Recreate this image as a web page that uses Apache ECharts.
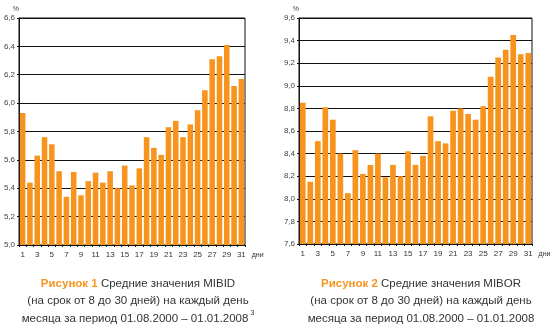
<!DOCTYPE html>
<html><head><meta charset="utf-8">
<script src="https://cdn.jsdelivr.net/npm/echarts@6/dist/echarts.min.js"></script>
<style>html,body{margin:0;padding:0;background:#fff}#c{width:556px;height:330px}</style>
</head><body><div id="c"></div>
<script>
const days = Array.from({length:31},(_,i)=>String(i+1));
const mibid = [5.93,5.44,5.63,5.76,5.71,5.52,5.34,5.515,5.35,5.45,5.51,5.44,5.52,5.40,5.56,5.42,5.54,5.76,5.685,5.635,5.83,5.875,5.76,5.85,5.95,6.09,6.31,6.33,6.41,6.12,6.17];
const mibor = [8.85,8.15,8.51,8.81,8.70,8.40,8.05,8.43,8.22,8.30,8.40,8.19,8.30,8.20,8.42,8.30,8.38,8.73,8.51,8.49,8.78,8.80,8.75,8.70,8.82,9.08,9.25,9.32,9.45,9.28,9.29];
const leftAxis = {min:5.0, max:6.6, interval:0.2};
const rightAxis = {min:7.6, max:9.6, interval:0.2};
const unitLabel = '%';
const dayLabel = 'дни';
const cap1 = ['Рисунок 1', ' Средние значения MIBID', '(на срок от 8 до 30 дней) на каждый день', 'месяца за период 01.08.2000 – 01.01.2008', '3'];
const cap2 = ['Рисунок 2', ' Средние значения MIBOR', '(на срок от 8 до 30 дней) на каждый день', 'месяца за период 01.08.2000 – 01.01.2008'];

const ORANGE = '#F7941D';
const FONT = 'Liberation Sans, Arial, sans-serif';
const chart = echarts.init(document.getElementById('c'), null, {renderer:'canvas'});

function xAx(gi){
  return {type:'category', gridIndex:gi, data:days,
    axisLine:{lineStyle:{color:'#111', width:1}},
    axisTick:{show:true, length:2, lineStyle:{color:'#111'}, interval:0},
    axisLabel:{interval:1, color:'#333', fontSize:8, fontFamily:FONT, margin:6},
    name:dayLabel, nameLocation:'end', nameGap:6,
    nameTextStyle:{color:'#333', fontSize:7, fontFamily:FONT, verticalAlign:'top', padding:[7,0,0,0]}
  };
}
function yAx(gi, ax){
  return {type:'value', gridIndex:gi, min:ax.min, max:ax.max, interval:ax.interval,
    axisLine:{show:true, lineStyle:{color:'#111', width:1}},
    axisTick:{show:true, length:2, lineStyle:{color:'#111'}},
    splitLine:{lineStyle:{color:'#111', width:1}},
    axisLabel:{color:'#444', fontSize:8, fontFamily:FONT, margin:4,
      formatter:v=>v.toFixed(1).replace('.',',')},
    name:unitLabel, nameLocation:'end', nameGap:5,
    nameTextStyle:{color:'#444', fontSize:7, fontFamily:FONT, align:'right', padding:[0,0,0,0]}
  };
}
function cap(c, left, sup){
  return {
    text: '{o|'+c[0]+'}{n|'+c[1]+'}\n{n|'+c[2]+'}\n{n|'+c[3]+'}'+(sup?'{s|'+sup+'}':''),
    left:left, top:270, textAlign:'center',
    textStyle:{fontWeight:'normal', rich:{
      o:{color:ORANGE, fontWeight:'bold', fontSize:11.5, fontFamily:FONT, lineHeight:17.5},
      n:{color:'#333', fontWeight:'normal', fontSize:11.5, fontFamily:FONT, lineHeight:17.5},
      s:{color:'#333', fontWeight:'normal', fontSize:7, fontFamily:FONT, verticalAlign:'top', lineHeight:17.5, padding:[0,0,8,2]}
    }}
  };
}
chart.setOption({
  animation:false,
  title:[cap(cap1, 133, cap1[4]), cap(cap2, 416, null)],
  grid:[
    {left:19, top:18, width:226, height:227, show:true, borderColor:'#111', borderWidth:1, containLabel:false},
    {left:299, top:18, width:233, height:226, show:true, borderColor:'#111', borderWidth:1, containLabel:false}
  ],
  xAxis:[xAx(0), xAx(1)],
  yAxis:[yAx(0,leftAxis), yAx(1,rightAxis)],
  series:[
    {type:'bar', xAxisIndex:0, yAxisIndex:0, data:mibid, itemStyle:{color:ORANGE}, barCategoryGap:'24%'},
    {type:'bar', xAxisIndex:1, yAxisIndex:1, data:mibor, itemStyle:{color:ORANGE}, barCategoryGap:'24%'}
  ]
});
</script></body></html>
